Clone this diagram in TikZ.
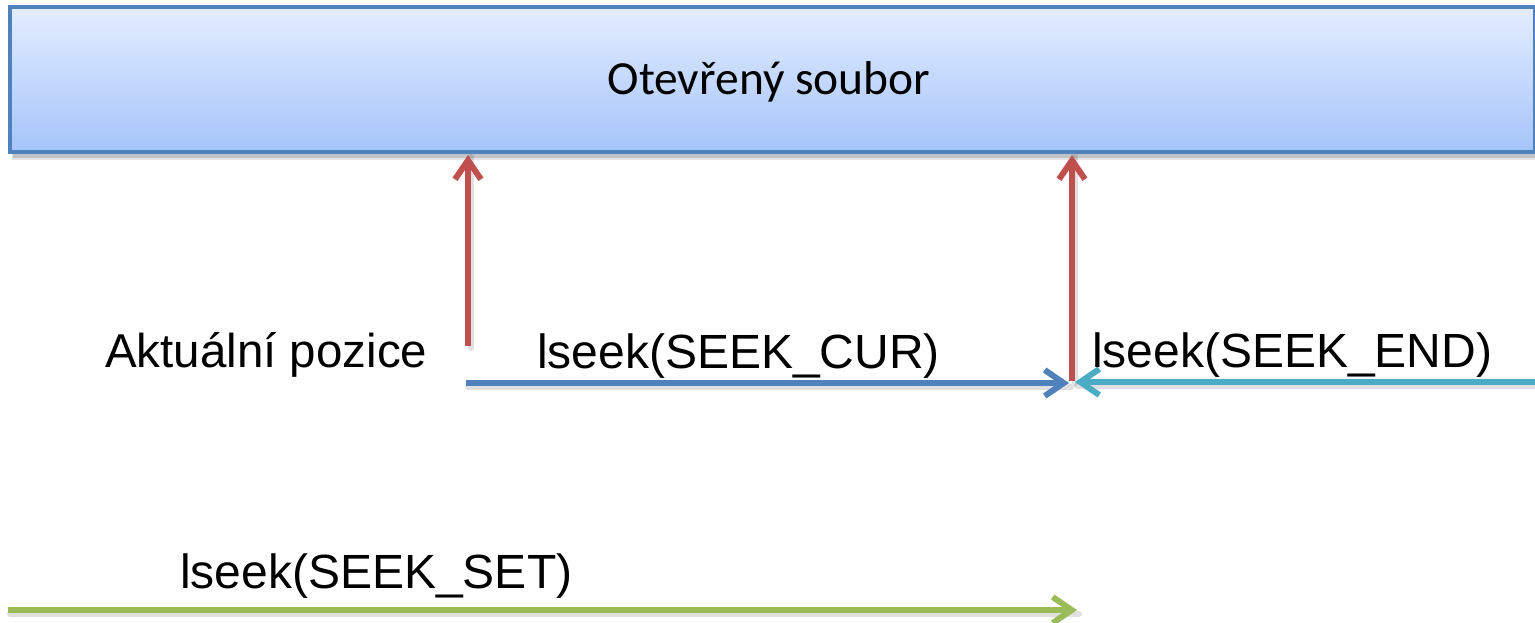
\documentclass[tikz,border=0pt]{standalone}
\usepackage{fontspec}
\setmainfont{Liberation Sans}
\newfontfamily\calibri{Carlito}
\usetikzlibrary{arrows.meta}
\definecolor{boxborder}{HTML}{4F81BD}
\definecolor{boxtop}{HTML}{E3EDFE}
\definecolor{boxbot}{HTML}{A5C4FA}
\definecolor{redarr}{HTML}{C0504D}
\definecolor{bluearr}{HTML}{4F81BD}
\definecolor{cyanarr}{HTML}{4BACC6}
\definecolor{greenarr}{HTML}{9BBB59}
\begin{document}
\begin{tikzpicture}[x=1pt,y=-1pt,
  lbl/.style={anchor=base west,inner sep=0pt,font=\fontsize{48}{56}\selectfont},
  conn/.style={line width=6pt,-{Straight Barb[length=19pt,width=26pt]}},
  shadowline/.style={line width=6pt,black,opacity=0.12,line cap=round}]
\useasboundingbox (0,0) rectangle (1535,622);
% box shadow
\fill[black,opacity=0.15] (13,12) rectangle (1540,158);
\fill[black,opacity=0.1] (12,10) rectangle (1540,160);
\node[draw=boxborder,line width=4pt,top color=boxtop,bottom color=boxbot,
      minimum width=1525pt,minimum height=145pt,inner sep=0pt,outer sep=0pt,
      anchor=north west] (file) at (10,7) {};
\node[font=\calibri\fontsize{47.5}{56}\selectfont,inner sep=0pt] (title) at (769,82) {Otevřený soubor};
% coordinates
\coordinate (r1s) at (468,346);
\coordinate (r1e) at (468,155);
\coordinate (r2s) at (1072,381);
\coordinate (r2e) at (1072,155);
\coordinate (bs) at (466,383);
\coordinate (be) at (1069,383);
\coordinate (cs) at (1540,382);
\coordinate (ce) at (1075,382);
\coordinate (gs) at (8,610);
\coordinate (ge) at (1077,610);
% shadows
\draw[shadowline] ([shift={(2,4)}]bs) -- ([shift={(2,4)}]be);
\draw[shadowline] ([shift={(2,4)}]cs) -- ([shift={(2,4)}]ce);
\draw[shadowline] ([shift={(2,4)}]gs) -- ([shift={(2,4)}]ge);
\draw[shadowline] ([shift={(3,2)}]r1s) -- ([shift={(3,2)}]r1e);
\draw[shadowline] ([shift={(3,2)}]r2s) -- ([shift={(3,2)}]r2e);
% arrows
\draw[conn,bluearr] (bs) -- (be);
\draw[conn,cyanarr] (cs) -- (ce);
\draw[conn,greenarr] (gs) -- (ge);
\draw[conn,redarr] (r1s) -- (r1e);
\draw[conn,redarr] (r2s) -- (r2e);
% labels
\node[lbl,font=\fontsize{47.5}{56}\selectfont] (akt) at (105,367) {Aktuální pozice};
\node[lbl] (cur) at (537,368) {lseek(SEEK\_CUR)};
\node[lbl] (endl) at (1092,367) {lseek(SEEK\_END)};
\node[lbl] (set) at (180,588) {lseek(SEEK\_SET)};
\end{tikzpicture}
\end{document}
